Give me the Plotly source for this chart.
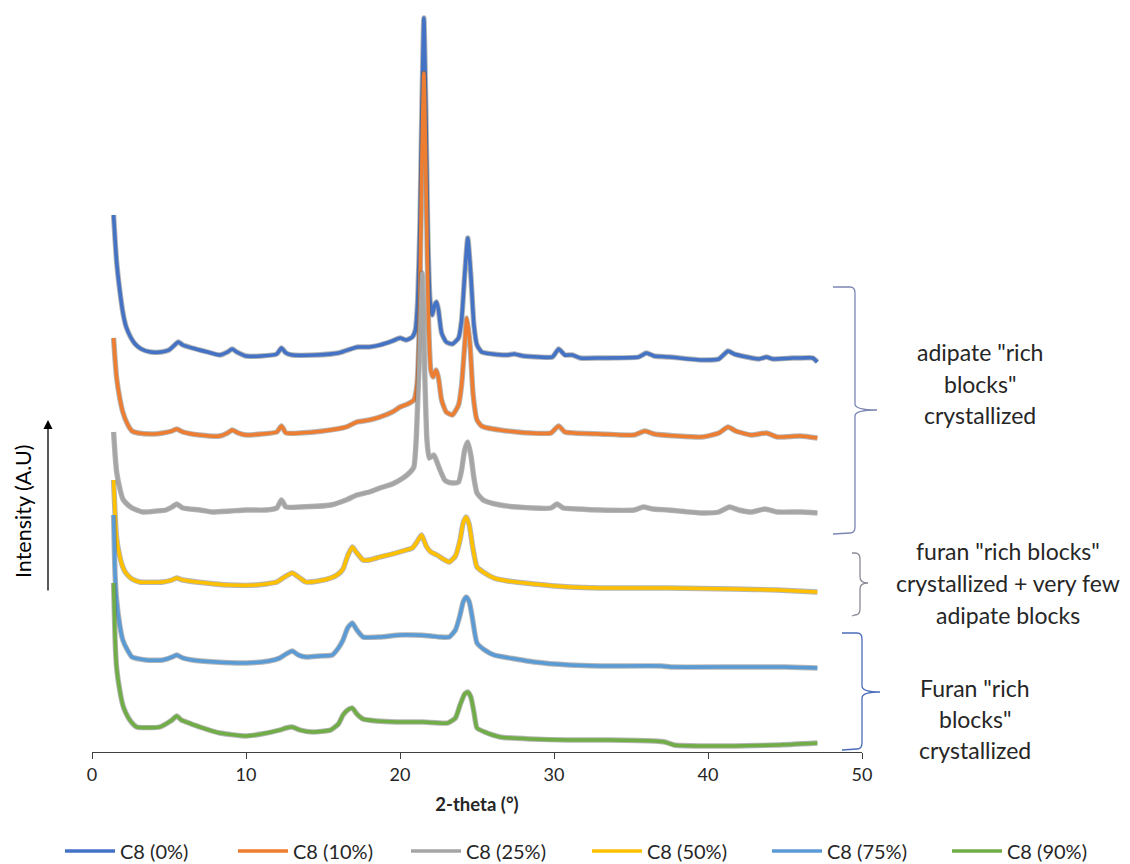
import plotly.graph_objects as go

# ---- data (2-theta in degrees, intensity in arbitrary units, stacked patterns) ----
names = ["C8 (0%)", "C8 (10%)", "C8 (25%)", "C8 (50%)", "C8 (75%)", "C8 (90%)"]
colors = ["#4472C4", "#ED7D31", "#A5A5A5", "#FFC000", "#5B9BD5", "#70AD47"]

theta_0 = [1.4,1.5,1.6,1.8,2.0,2.2,2.5,2.8,3.2,3.8,4.5,5.0,5.3,5.6,5.9,6.5,7.5,8.3,8.8,9.1,9.4,10.0,
           11.0,12.0,12.3,12.6,13.0,14.5,16.0,17.0,17.3,18.0,18.7,19.5,20.0,20.4,20.8,
           21.0,21.15,21.3,21.42,21.55,21.68,21.8,21.95,22.1,22.25,22.38,22.5,22.7,
           23.0,23.4,23.8,24.0,24.2,24.4,24.6,24.8,25.0,25.3,
           26.0,27.0,27.4,28.0,29.0,29.9,30.3,30.7,31.0,31.2,31.7,33.0,
           35.5,36.0,36.5,37.5,39.6,40.7,41.0,41.3,41.7,42.2,43.3,43.8,44.2,45.5,46.1,46.8,47.1]
int_0 = [537,512,490,462,440,426,415,408,403,400,400,402,406,410,407,404,400,397,400,403,400,396,
         396,398,404,399,397,397,399,404,405,405,407,411,414,412,415,
         422,452,532,642,734,642,522,452,437,447,450,442,419,
         410,408,414,432,477,514,477,427,407,400,
         398,397,398,396,395,395,403,397,397,397,394,394,
         395,399,396,395,392,393,397,401,398,396,393,395,393,394,394,394,390]

theta_10 = [1.4,1.5,1.6,1.8,2.0,2.3,2.6,3.0,4.0,4.6,5.2,5.5,5.9,7.0,8.3,8.8,9.1,9.5,10.0,
            11.0,12.0,12.3,12.6,13.5,15.0,16.5,17.2,18.0,18.7,19.5,20.0,20.5,20.9,
            21.1,21.25,21.4,21.55,21.7,21.85,22.0,22.15,22.35,22.5,22.7,
            23.0,23.4,23.8,24.0,24.2,24.35,24.55,24.75,25.0,25.3,25.7,
            26.5,27.6,28.5,29.8,30.3,30.7,31.3,33.0,
            35.2,35.9,36.5,38.0,39.6,40.7,41.3,41.8,42.8,43.8,44.5,46.0,47.1]
int_10 = [414,392,374,354,340,328,321,319,318,319,321,323,320,317,316,319,322,319,317,
          318,320,326,319,319,321,325,330,332,335,340,345,348,352,
          367,422,572,679,562,432,382,375,382,374,352,
          340,337,347,367,407,434,407,357,332,326,324,
          322,320,319,319,326,320,319,318,
          317,321,318,316,315,319,325,321,317,319,315,316,314]

theta_25 = [1.4,1.5,1.6,1.8,2.0,2.2,2.6,3.3,4.2,4.8,5.2,5.5,5.9,7.0,7.8,9.0,10.0,
            11.3,12.0,12.3,12.6,13.5,15.5,16.5,17.2,18.0,18.7,19.5,20.2,20.6,20.9,
            21.05,21.2,21.43,21.6,21.75,21.9,22.2,22.4,22.6,22.9,
            23.1,23.5,23.8,24.0,24.2,24.4,24.6,24.8,25.0,25.4,25.7,
            26.5,27.6,29.8,30.2,30.6,31.5,33.0,
            35.2,35.8,36.4,37.4,39.6,40.7,41.4,42.0,42.8,43.7,44.5,46.0,47.1]
int_25 = [320,297,280,264,253,249,244,240,241,242,245,248,244,242,240,241,242,
          242,244,252,245,245,247,252,257,260,264,268,274,279,285,
          312,372,479,382,312,294,297,290,282,272,
          270,269,270,282,302,310,297,274,259,252,250,
          247,245,244,248,244,243,242,
          242,245,243,242,239,240,245,242,240,243,240,240,239]

theta_50 = [1.4,1.5,1.6,1.8,2.0,2.2,2.6,3.1,4.6,5.2,5.5,5.9,6.8,8.0,8.9,10.7,
            12.0,12.5,13.0,13.5,13.9,14.7,15.5,16.0,16.3,16.6,16.9,17.2,17.6,18.0,18.7,19.5,
            20.4,20.8,21.1,21.4,21.7,22.0,22.4,22.8,23.2,23.6,23.9,24.1,24.3,24.5,24.7,25.0,
            25.5,26.1,27.0,28.7,31.0,33.0,37.4,41.7,44.5,47.1]
int_50 = [272,237,214,196,185,179,173,170,170,172,174,172,170,168,167,167,
          170,175,179,174,170,171,174,178,183,196,205,199,192,192,195,198,
          202,204,210,217,206,200,197,193,190,196,212,229,235,227,207,185,
          179,174,171,168,165,164,164,163,162,160]

theta_75 = [1.4,1.5,1.6,1.8,2.0,2.3,2.6,3.5,4.6,5.2,5.5,5.9,6.5,8.0,10.0,
            11.5,12.2,12.6,13.0,13.4,13.9,14.8,15.6,16.0,16.3,16.6,16.9,17.2,17.6,18.7,
            20.0,20.9,22.0,22.6,23.2,23.6,23.9,24.1,24.3,24.5,24.7,25.0,
            25.5,26.1,27.5,28.7,31.0,33.0,37.0,37.6,41.7,45.0,47.1]
int_75 = [237,177,152,127,112,102,95,92,92,95,97,94,92,90,89,
          91,94,98,101,97,95,96,97,104,112,124,129,122,115,115,
          117,117,116,115,115,122,137,150,155,150,134,109,
          102,97,93,90,87,86,86,85,85,85,84]

theta_90 = [1.4,1.5,1.6,1.8,2.0,2.2,2.5,2.9,4.4,5.0,5.2,5.5,5.8,6.3,7.0,8.3,10.0,
            11.0,12.2,12.6,13.0,13.5,14.3,15.5,16.0,16.3,16.6,16.9,17.2,17.6,18.5,19.8,
            21.5,23.1,23.6,23.9,24.2,24.4,24.6,24.8,25.0,
            25.5,26.5,28.5,30.9,33.5,36.5,37.2,37.8,39.5,41.7,44.5,47.1]
int_90 = [169,112,84,62,47,39,31,25,25,30,32,36,32,29,25,19,16,
          18,22,24,25,22,20,22,28,37,42,44,38,33,31,30,
          30,29,34,47,58,60,55,40,24,
          20,15,13,12,12,11,10,7,6,6,7,9]

thetas = [theta_0, theta_10, theta_25, theta_50, theta_75, theta_90]
intens = [int_0, int_10, int_25, int_50, int_75, int_90]

x_ticks = [0, 10, 20, 30, 40, 50]

# ---- layout geometry (figure pixels; page body adds an 8px offset) ----
OFF = 8
W, H = 1130 - OFF, 864 - OFF
ML, MR, MT, MB = 84, 268, 2, 112
PW, PH = W - ML - MR, H - MT - MB

def px(xs):  # screen x -> paper
    return (xs - OFF - ML) / PW

def py(ys):  # screen y -> paper
    return (H - MB - (ys - OFF)) / PH

fig = go.Figure()
for i, (th, iy, nm, col) in enumerate(zip(thetas, intens, names, colors)):
    lg = "legend" if i < 3 else "legend2"
    fig.add_trace(go.Scatter(x=th, y=iy, mode="lines", showlegend=False, hoverinfo="skip",
                             line=dict(color="rgba(90,90,90,0.45)", width=5.4, shape="spline", smoothing=0.5)))
    fig.add_trace(go.Scatter(x=th, y=iy, mode="lines", name=nm, legend=lg,
                             line=dict(color=col, width=3.6, shape="spline", smoothing=0.5)))

FONT = "Lato"
TXT = "#262626"

# curly braces
def brace(x_end, x_spine, x_tip, y_top, y_mid, y_bot, color):
    def P(a, b):
        return f"{px(a):.5f},{py(b):.5f}"
    path = (f"M {P(x_end, y_top)} L {P(x_spine - 5, y_top)} Q {P(x_spine, y_top)} {P(x_spine, y_top + 6)} "
            f"L {P(x_spine, y_mid - 6)} Q {P(x_spine, y_mid)} {P(x_tip, y_mid)} "
            f"Q {P(x_spine, y_mid)} {P(x_spine, y_mid + 6)} L {P(x_spine, y_bot - 6)} "
            f"Q {P(x_spine, y_bot)} {P(x_spine - 5, y_bot)} L {P(x_end, y_bot + 1)}")
    return dict(type="path", xref="paper", yref="paper", path=path,
                line=dict(color=color, width=1.3))

shapes = [
    brace(833, 855, 877, 287, 410, 533, "#7b86b3"),
    brace(852, 860, 868, 553, 583, 615, "#8a8a96"),
    brace(842, 862, 880, 633, 692, 749, "#4a6cb8"),
]

annotations = []
blocks = [
    (980, [('adipate "rich', 352), ('blocks"', 384), ('crystallized', 415)]),
    (1008, [('furan "rich blocks"', 551), ('crystallized + very few', 583), ('adipate blocks', 615)]),
    (975, [('Furan "rich', 688), ('blocks"', 719), ('crystallized', 750)]),
]
for cx, lines in blocks:
    for t, yy in lines:
        annotations.append(dict(text=t, x=px(cx), y=py(yy), xref="paper", yref="paper",
                                showarrow=False, xanchor="center", yanchor="middle",
                                font=dict(family=FONT, size=23, color=TXT)))

annotations.append(dict(text="Intensity (A.U)", x=px(23), y=py(512), xref="paper", yref="paper",
                        showarrow=False, textangle=-90, xanchor="center", yanchor="middle",
                        font=dict(family=FONT, size=21.5, color="#000000")))
annotations.append(dict(text="", x=px(48), y=py(420), xref="paper", yref="paper",
                        showarrow=True, ax=0, ay=172, axref="pixel", ayref="pixel",
                        arrowhead=2, arrowsize=1.4, arrowwidth=1.3, arrowcolor="#000000"))

leg_common = dict(orientation="h", yanchor="middle", y=py(851),
                  font=dict(family=FONT, size=20, color=TXT), entrywidthmode="pixels",
                  itemwidth=50, tracegroupgap=0, bgcolor="rgba(0,0,0,0)")

fig.update_layout(
    width=W, height=H,
    margin=dict(l=ML, r=MR, t=MT, b=MB, autoexpand=False),
    plot_bgcolor="white", paper_bgcolor="white",
    font=dict(family=FONT, color=TXT),
    xaxis=dict(range=[0, 50], tickvals=x_ticks, ticktext=[str(v) for v in x_ticks],
               showgrid=False, zeroline=False, showline=True, linecolor="#404040", linewidth=1.2,
               ticks="outside", ticklen=6, tickcolor="#404040", tickwidth=1.2,
               tickfont=dict(family=FONT, size=18, color=TXT),
               title=dict(text="<b>2-theta (°)</b>", font=dict(family=FONT, size=18.5, color=TXT), standoff=14)),
    yaxis=dict(range=[0, PH], visible=False),
    legend=dict(x=px(60), xanchor="left", entrywidth=108, **leg_common),
    legend2=dict(x=px(587), xanchor="left", entrywidth=115, **leg_common),
    shapes=shapes,
    annotations=annotations,
)

fig.write_html("out.html")
